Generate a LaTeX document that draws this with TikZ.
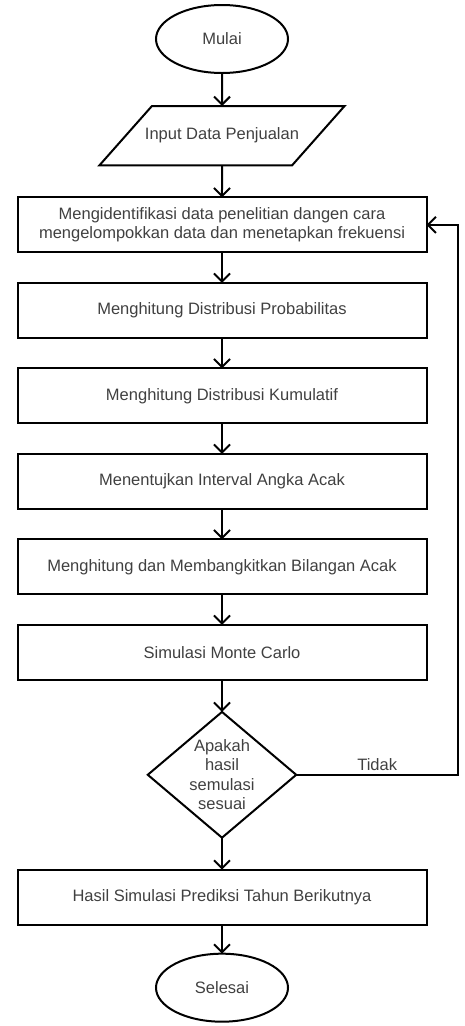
\documentclass[tikz,border=0pt]{standalone}
\usepackage{fontspec}
\setmainfont{Liberation Sans}
\usetikzlibrary{arrows.meta,positioning,shapes.geometric}

\begin{document}
\begin{tikzpicture}[
  x=1pt, y=1pt,
  txt/.style={font=\fontsize{16.5}{19.5}\selectfont, text=black!75},
  base/.style={draw, line width=2pt, outer sep=0pt, txt, align=center},
  term/.style={base, ellipse, minimum width=132pt, minimum height=68pt},
  io/.style={base, trapezium, trapezium left angle=48.5, trapezium right angle=131.5,
    inner xsep=-7pt, inner ysep=22pt},
  proc/.style={base, rectangle, minimum width=409pt, minimum height=55pt},
  decision/.style={base, diamond, aspect=1.18, inner sep=0pt},
  arrow/.style={-{Straight Barb[length=8pt, width=16pt]}, line width=2pt},
  node distance=30.5pt,
]
  \useasboundingbox (0,0) rectangle (464,-1026);

  \node[term] (start) at (222,-39) {Mulai};
  \node[io, below=33pt of start] (input) {Input Data Penjualan};
  \node[proc, below=32pt of input] (ident) {Mengidentifikasi data penelitian dangen cara\\mengelompokkan data dan menetapkan frekuensi};
  \node[proc, below=of ident] (prob) {Menghitung Distribusi Probabilitas};
  \node[proc, below=of prob] (cum) {Menghitung Distribusi Kumulatif};
  \node[proc, below=of cum] (interval) {Menentujkan Interval Angka Acak};
  \node[proc, below=of interval] (rand) {Menghitung dan Membangkitkan Bilangan Acak};
  \node[proc, below=of rand] (sim) {Simulasi Monte Carlo};
  \node[decision, below=32pt of sim] (check) {Apakah\\hasil\\semulasi\\sesuai};
  \node[proc, below=32pt of check] (result) {Hasil Simulasi Prediksi Tahun Berikutnya};
  \node[term, below=29pt of result] (stop) {Selesai};

  \foreach \a/\b in {start/input, input/ident, ident/prob, prob/cum, cum/interval,
                     interval/rand, rand/sim, sim/check, check/result, result/stop}
    \draw[arrow] (\a) -- (\b);

  % back to the start of the loop
  \coordinate[right=162pt of check.east] (loop);
  \draw[arrow] (check.east) -- node[above, txt]{Tidak} (loop) |- (ident.east);
\end{tikzpicture}
\end{document}
